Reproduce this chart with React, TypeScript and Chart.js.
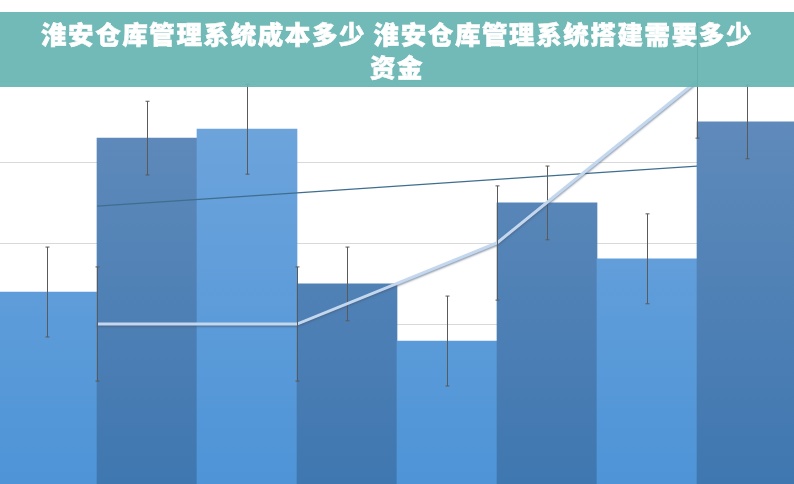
import { useEffect, useRef } from "react";
import { Chart, registerables } from "chart.js";

Chart.register(...registerables);

// bar series (8 categories)
const categories = ["一", "二", "三", "四", "五", "六", "七", "八"];
const barValues = [47.9, 85.9, 88.1, 49.9, 35.8, 69.9, 56.1, 89.9];
const barErrors = [11.1, 9.1, 11.1, 9.1, 11.1, 9.1, 11.1, 9.1];

// line series (4 categories, each spanning two bars)
const lineLabels = ["A", "B", "C", "D"];
const lineValues = [40, 40, 60, 100];
const lineErrors = [14.1, 14.1, 14.1, 14.1];
const trendValues = [69.1, 72.4, 75.7, 79.0];

const gridTicks = [20, 40, 60, 80, 100];

const title = "淮安仓库管理系统成本多少 淮安仓库管理系统搭建需要多少资金";

const errorBars = {
  id: "errorBars",
  beforeDatasetDraw(chart: any, args: any) {
    const ds = chart.data.datasets[args.index];
    if (ds.shadow) {
      const ctx = chart.ctx;
      ctx.save();
      ctx.shadowColor = "rgba(70, 90, 120, 0.6)";
      ctx.shadowBlur = 2;
      ctx.shadowOffsetY = 1.5;
    }
  },
  afterDatasetDraw(chart: any, args: any) {
    const ds = chart.data.datasets[args.index];
    const ctx = chart.ctx;
    if (ds.shadow) ctx.restore();
    if (!ds.errors) return;
    const y = chart.scales.y;
    ctx.save();
    ctx.strokeStyle = "#5a5a5a";
    ctx.lineWidth = 1;
    args.meta.data.forEach((el: any, i: number) => {
      const v = ds.data[i];
      const e = ds.errors[i];
      const top = y.getPixelForValue(v + e);
      const bot = y.getPixelForValue(v - e);
      const x = Math.round(el.x) + 0.5;
      ctx.beginPath();
      ctx.moveTo(x, top);
      ctx.lineTo(x, bot);
      ctx.moveTo(x - 2, top);
      ctx.lineTo(x + 2, top);
      ctx.moveTo(x - 2, bot);
      ctx.lineTo(x + 2, bot);
      ctx.stroke();
    });
    ctx.restore();
  },
};

function barFill(ctx: any) {
  const chart = ctx.chart;
  const area = chart.chartArea;
  const dark = ctx.dataIndex % 2 === 1;
  if (!area) return dark ? "#5282b6" : "#5e9bd9";
  const g = chart.ctx.createLinearGradient(0, 100, 0, area.bottom);
  if (dark) {
    g.addColorStop(0, "#618bbb");
    g.addColorStop(1, "#3f77b0");
  } else {
    g.addColorStop(0, "#6fa5dc");
    g.addColorStop(1, "#4e94d7");
  }
  return g;
}

function ComboChart() {
  const canvasRef = useRef<HTMLCanvasElement>(null);

  useEffect(() => {
    const canvas = canvasRef.current;
    if (!canvas) return;

    const chart = new Chart(canvas, {
      type: "bar",
      data: {
        labels: categories,
        datasets: [
          {
            type: "line",
            data: lineValues,
            xAxisID: "x2",
            borderColor: "#c3d7ee",
            borderWidth: 3,
            pointRadius: 0,
            tension: 0,
            order: 1,
            shadow: true,
            errors: lineErrors,
          } as any,
          {
            type: "line",
            data: trendValues,
            xAxisID: "x2",
            borderColor: "#3f6e8e",
            borderWidth: 1.2,
            pointRadius: 0,
            order: 2,
          },
          {
            type: "bar",
            data: barValues,
            xAxisID: "x",
            backgroundColor: barFill,
            categoryPercentage: 1,
            barPercentage: 1,
            grouped: false,
            order: 3,
            errors: barErrors,
          } as any,
        ],
      },
      options: {
        animation: false,
        responsive: true,
        maintainAspectRatio: false,
        layout: { padding: 0 },
        plugins: {
          legend: { display: false },
          tooltip: { enabled: false },
        },
        scales: {
          x: { display: false },
          x2: { type: "category", labels: lineLabels, display: false, offset: true },
          y: {
            min: 0.5,
            max: 120,
            afterBuildTicks: (scale: any) => {
              scale.ticks = gridTicks.map((v) => ({ value: v }));
            },
            ticks: { display: false },
            grid: { color: "#d9d9d9", lineWidth: 1, drawTicks: false },
            border: { display: false },
          },
        },
      } as any,
      plugins: [errorBars],
    });

    return () => chart.destroy();
  }, []);

  return <canvas ref={canvasRef} />;
}

export default function App() {
  return (
    <div
      style={{
        position: "fixed",
        left: 0,
        top: 0,
        width: 794,
        height: 484,
        overflow: "hidden",
        background: "#fff",
      }}
    >
      <div style={{ position: "absolute", left: -3, top: 0, width: 800, height: 484 }}>
        <ComboChart />
      </div>
      <div
        style={{
          position: "absolute",
          left: 0,
          top: 12,
          width: 794,
          height: 75,
          boxSizing: "border-box",
          padding: "4px 30px 0",
          background: "rgba(102, 181, 178, 0.93)",
          color: "#fff",
          fontFamily: '"Noto Sans CJK SC", sans-serif',
          fontWeight: 900,
          fontSize: 25.5,
          lineHeight: "33px",
          letterSpacing: 1.6,
          textAlign: "center",
          WebkitTextStroke: "0.6px #fff",
          textShadow: "0 0 1px rgba(0,0,0,0.15)",
        }}
      >
        {title}
      </div>
    </div>
  );
}
